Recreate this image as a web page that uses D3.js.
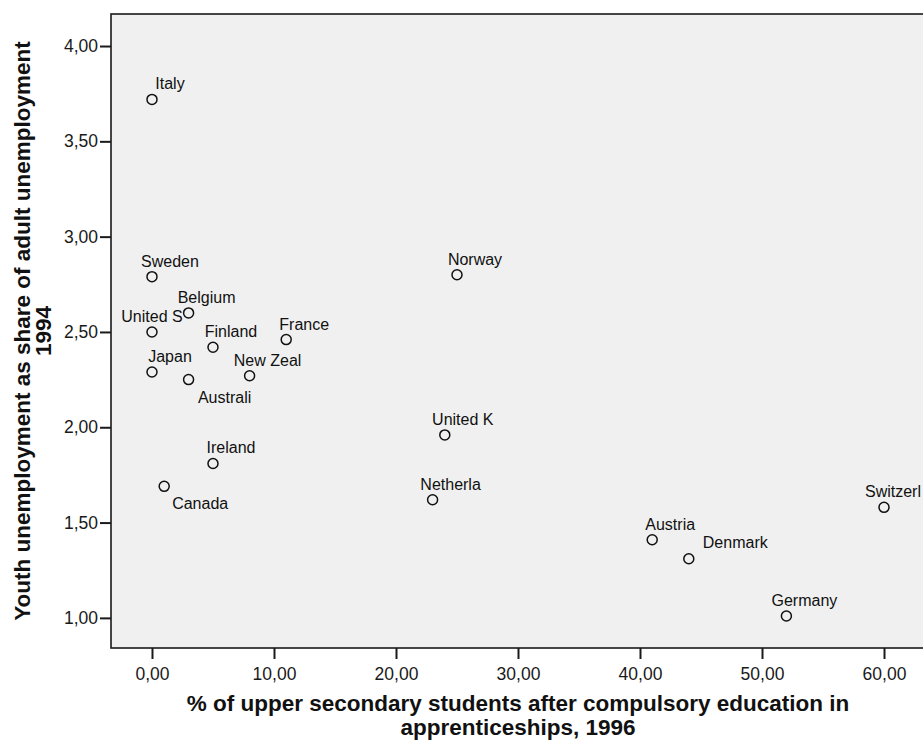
<!DOCTYPE html>
<html>
<head>
<meta charset="utf-8">
<script src="https://cdn.jsdelivr.net/npm/d3@7"></script>
<style>
  body { margin: 0; background: #fff; overflow: hidden; }
  svg { display: block; }
  text { font-family: "Liberation Sans", Arial, sans-serif; }
</style>
</head>
<body>
<div id="scatter"></div>
<script>
// country labels as SPSS truncated them
var countries = ["Italy", "Sweden", "Belgium", "United S", "Finland", "France", "Japan",
                 "Australi", "New Zeal", "Ireland", "Canada", "Norway", "United K",
                 "Netherla", "Austria", "Denmark", "Germany", "Switzerl"];
var apprenticeships = [0, 0, 3, 0, 5, 11, 0, 3, 8, 5, 1, 25, 24, 23, 41, 44, 52, 60];
var youthShare      = [3.72, 2.79, 2.60, 2.50, 2.42, 2.46, 2.29, 2.25, 2.27, 1.81, 1.69,
                       2.80, 1.96, 1.62, 1.41, 1.31, 1.01, 1.58];
var xTicks = [0, 10, 20, 30, 40, 50, 60];
var yTicks = [1, 1.5, 2, 2.5, 3, 3.5, 4];

var data = countries.map(function(c, i) {
  return {name: c, x: apprenticeships[i], y: youthShare[i]};
});

var width = 923;
var height = 742;
var plot = {left: 111, top: 14, right: 925, bottom: 648};

// where SPSS put the labels that are not above the point
var labelSide = {"United S": "centre", "Australi": "below", "Canada": "below", "Denmark": "right"};

var svg = d3.select('#scatter')
            .append('svg')
            .attr('width', width)
            .attr('height', height);

var xScale = d3.scaleLinear()
               .domain([-3.36, 63.36])
               .range([plot.left, plot.right]);
var yScale = d3.scaleLinear()
               .domain([0.842, 4.168])
               .range([plot.bottom, plot.top]);

svg.append('rect')
   .attr('x', plot.left)
   .attr('y', plot.top)
   .attr('width', plot.right - plot.left)
   .attr('height', plot.bottom - plot.top)
   .attr('fill', '#f0f0f0')
   .attr('stroke', '#1a1a1a')
   .attr('stroke-width', 1.6);

var fmt = function(d) { return d3.format('.2f')(d).replace('.', ','); };

var xAxis = svg.append('g')
               .attr('transform', 'translate(0,' + plot.bottom + ')')
               .call(d3.axisBottom(xScale).tickValues(xTicks).tickFormat(fmt)
                       .tickSizeInner(11).tickSizeOuter(0).tickPadding(8.5));
var yAxis = svg.append('g')
               .attr('transform', 'translate(' + plot.left + ',0)')
               .call(d3.axisLeft(yScale).tickValues(yTicks).tickFormat(fmt)
                       .tickSizeInner(11).tickSizeOuter(0).tickPadding(2));

[xAxis, yAxis].forEach(function(ax) {
  ax.select('.domain').remove();
  ax.selectAll('line').attr('stroke', '#1a1a1a').attr('stroke-width', 2);
  ax.selectAll('text').attr('font-size', 17.5).attr('fill', '#1a1a1a')
    .attr('font-family', '"Liberation Sans", Arial, sans-serif');
});

var pts = svg.append('g');
pts.selectAll('circle')
   .data(data)
   .enter()
   .append('circle')
   .attr('cx', function(d) { return xScale(d.x); })
   .attr('cy', function(d) { return yScale(d.y); })
   .attr('r', 5)
   .attr('fill', 'none')
   .attr('stroke', '#111')
   .attr('stroke-width', 1.5);

pts.selectAll('text')
   .data(data)
   .enter()
   .append('text')
   .attr('font-size', 16)
   .attr('fill', '#111')
   .text(function(d) { return d.name; })
   .each(function(d) {
     var t = d3.select(this);
     var cx = xScale(d.x), cy = yScale(d.y);
     var w = this.getComputedTextLength();
     var side = labelSide[d.name] || 'above';
     var left, base;
     if (side === 'below') { left = cx + 36 - w / 2; base = cy + 23; }
     else if (side === 'right') { left = cx + 14; base = cy - 11; }
     else if (side === 'centre') { left = cx - w / 2; base = cy - 10; }
     else { left = cx + 18 - w / 2; base = cy - 10; }
     // keep inside the frame
     if (left + w > plot.right - 4) left = plot.right - 4 - w;
     t.attr('x', left).attr('y', base);
   });

// axis titles
var midX = (plot.left + plot.right) / 2;
var xTitle = svg.append('text')
                .attr('text-anchor', 'middle')
                .attr('font-size', 22.5)
                .attr('font-weight', 'bold')
                .attr('fill', '#111');
xTitle.append('tspan').attr('x', midX).attr('y', 711)
      .text('% of upper secondary students after compulsory education in');
xTitle.append('tspan').attr('x', midX).attr('y', 735)
      .text('apprenticeships, 1996');

var midY = (plot.top + plot.bottom) / 2;
var yTitle = svg.append('text')
                .attr('text-anchor', 'middle')
                .attr('font-size', 22.5)
                .attr('font-weight', 'bold')
                .attr('fill', '#111')
                .attr('transform', 'translate(0,' + midY + ') rotate(-90)');
yTitle.append('tspan').attr('x', 0).attr('y', 30)
      .text('Youth unemployment as share of adult unemployment');
yTitle.append('tspan').attr('x', 0).attr('y', 51)
      .text('1994');
</script>
</body>
</html>
